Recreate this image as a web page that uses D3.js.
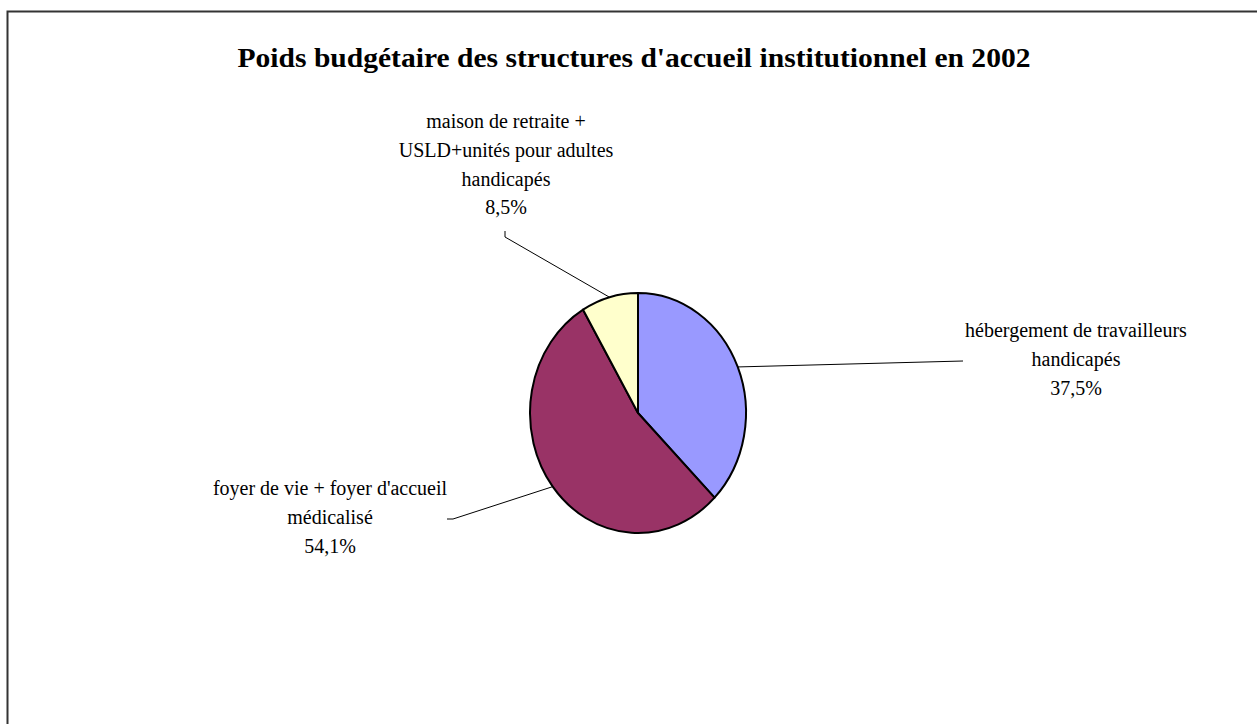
<!DOCTYPE html>
<html>
<head>
<meta charset="utf-8">
<script src="https://cdn.jsdelivr.net/npm/d3@7"></script>
<style>
  body { margin: 0; background: #fff; }
  text { font-family: "Liberation Serif", "DejaVu Serif", serif; fill: #000; }
</style>
</head>
<body>
<div id="chart"></div>
<script>
var title = "Poids budgétaire des structures d'accueil institutionnel en 2002";
var categories = [
  ["hébergement de travailleurs", "handicapés"],
  ["foyer de vie + foyer d'accueil", "médicalisé"],
  ["maison de retraite +", "USLD+unités pour adultes", "handicapés"]
];
var values = [37.5, 54.1, 8.5];
var percentLabels = ["37,5%", "54,1%", "8,5%"];
var colors = ["#9999FF", "#993366", "#FFFFCC"];

function init() {
  var w = 1257, h = 724;
  var cx = 638, cy = 413;
  var ry = 120, rx = 108;

  // where each label block sits and where its leader line ends
  var labelPos = [
    { x: 1076, y: 337, lx: 963, ly: 361, tick: null },
    { x: 330, y: 495, lx: 447, ly: 519, tick: [453, 519] },
    { x: 506, y: 128, lx: 505, ly: 231, tick: [505, 237] }
  ];

  var svg = d3.select("#chart")
    .append("svg")
    .attr("width", w)
    .attr("height", h);

  svg.append("rect")
    .attr("x", 7.5)
    .attr("y", 11.5)
    .attr("width", 1300)
    .attr("height", 800)
    .attr("fill", "#fff")
    .attr("stroke", "#333")
    .attr("stroke-width", 2);

  svg.append("text")
    .attr("x", 634)
    .attr("y", 67)
    .attr("text-anchor", "middle")
    .attr("font-size", 28)
    .attr("font-weight", "bold")
    .attr("textLength", 793)
    .attr("lengthAdjust", "spacingAndGlyphs")
    .text(title);

  var pie = d3.pie().sort(null).value(function(d) { return d; });
  var arcs = pie(values);
  var arc = d3.arc().innerRadius(0).outerRadius(ry);

  var g = svg.append("g")
    .attr("transform", "translate(" + cx + "," + cy + ") scale(" + (rx / ry) + ",1)");

  g.selectAll("path")
    .data(arcs)
    .enter()
    .append("path")
    .attr("d", arc)
    .attr("fill", function(d, i) { return colors[i]; })
    .attr("stroke", "#000")
    .attr("stroke-width", 2)
    .attr("vector-effect", "non-scaling-stroke")
    .attr("stroke-linejoin", "round");

  // leader lines from slice edge (mid angle) to label
  arcs.forEach(function(d, i) {
    var a = (d.startAngle + d.endAngle) / 2;
    var ex = cx + Math.sin(a) * rx;
    var ey = cy - Math.cos(a) * ry;
    var p = labelPos[i];
    var pts = [[p.lx, p.ly]];
    if (p.tick) pts.push(p.tick);
    pts.push([ex, ey]);
    svg.append("path")
      .attr("d", d3.line()(pts))
      .attr("fill", "none")
      .attr("stroke", "#000")
      .attr("stroke-width", 1);
  });

  labelPos.forEach(function(p, i) {
    var lines = categories[i].concat([percentLabels[i]]);
    var t = svg.append("text")
      .attr("text-anchor", "middle")
      .attr("font-size", 20);
    lines.forEach(function(s, k) {
      t.append("tspan")
        .attr("x", p.x)
        .attr("y", p.y + k * 28.8)
        .text(s);
    });
  });
}

window.onload = init;
</script>
</body>
</html>
